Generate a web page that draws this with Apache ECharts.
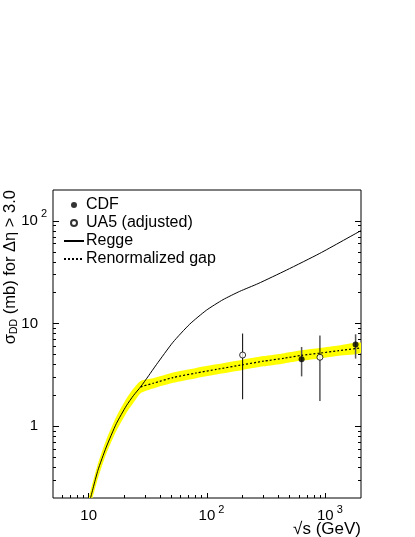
<!DOCTYPE html>
<html>
<head>
<meta charset="utf-8">
<script src="https://cdn.jsdelivr.net/npm/echarts@6/dist/echarts.min.js"></script>
<style>
html, body { margin: 0; padding: 0; background: #fff; }
#chart { width: 415px; height: 537px; }
</style>
</head>
<body>
<div id="chart"></div>
<script>
// sqrt(s) in GeV, sigma_DD in mb
const reggeX = [10.38, 11.97, 14.09, 17.13, 20.81, 23.99, 27.5, 32.1, 37.3, 51.6, 71.4, 98.9, 136.6, 189, 270, 470, 898, 2000];
const reggeY = [0.2, 0.371, 0.626, 1.059, 1.58, 2.0, 2.42, 3.10, 3.97, 6.58, 9.86, 13.5, 17.1, 20.6, 24.5, 33.2, 48.3, 80.5];

const gapX = [27.5, 35, 51.6, 81, 120, 200, 300, 450, 630, 900, 1300, 2000];
const gapY = [2.42, 2.62, 2.98, 3.30, 3.58, 3.97, 4.3, 4.6, 4.9, 5.15, 5.45, 5.8];

// yellow uncertainty band
const bandX = [10.0, 10.38, 11.97, 14.09, 17.13, 20.81, 23.99, 27.5, 35, 51.6, 81, 120, 200, 300, 450, 630, 900, 1300, 2000];
const bandLow = [0.145, 0.17, 0.31, 0.54, 0.9, 1.34, 1.7, 2.1, 2.33, 2.65, 2.94, 3.19, 3.53, 3.83, 4.09, 4.36, 4.58, 4.85, 5.16];
const bandHigh = [0.196, 0.235, 0.43, 0.74, 1.24, 1.85, 2.34, 2.76, 2.93, 3.34, 3.70, 4.01, 4.45, 4.82, 5.15, 5.49, 5.77, 6.10, 6.50];

// data points with error bars
const cdfX = [630, 1800];
const cdfY = [4.49, 6.25];
const cdfLow = [3.06, 4.56];
const cdfHigh = [5.92, 7.87];

const ua5X = [200, 900];
const ua5Y = [4.94, 4.70];
const ua5Low = [1.83, 1.76];
const ua5High = [8.0, 7.65];

// ticks
const xMajor = [10, 100, 1000];
const xMinor = [6, 7, 8, 9, 20, 30, 40, 50, 60, 70, 80, 90, 200, 300, 400, 500, 600, 700, 800, 900];
const yMajor = [1, 10, 100];
const yMinor = [0.3, 0.4, 0.5, 0.6, 0.7, 0.8, 0.9, 2, 3, 4, 5, 6, 7, 8, 9, 20, 30, 40, 50, 60, 70, 80, 90];

const lg = v => Math.log10(v);
const FONT = "'Liberation Sans', Arial, Helvetica, sans-serif";
const X_MIN = lg(5), X_MAX = lg(2000);
const Y_MIN = lg(0.2), Y_MAX = lg(200);

const labelRich = {
  b: { fontFamily: FONT, fontSize: 15, lineHeight: 24, color: '#000' },
  s: { fontFamily: FONT, fontSize: 11, lineHeight: 11, verticalAlign: 'top', padding: [0, 0, 0, 3], color: '#000' },
  p: { width: 9, fontSize: 11 }
};

function pow10Label(v, kind) {
  const e = Math.round(v);
  if (e === 0) return kind === 'x' ? '{b|1}' : '{b|1}{p|}';
  if (e === 1) return kind === 'x' ? '{b|10}' : '{b|10}{p|}';
  return kind === 'x' ? '{p|}{b|10}{s|' + e + '}' : '{b|10}{s|' + e + '}';
}

function axis(kind, pos, ticks, len, withLabels) {
  const a = {
    type: 'value',
    position: pos,
    min: kind === 'x' ? X_MIN : Y_MIN,
    max: kind === 'x' ? X_MAX : Y_MAX,
    axisLine: { show: false, onZero: false },
    axisTick: { show: true, inside: true, length: len, customValues: ticks.map(lg), lineStyle: { color: '#000', width: 1 } },
    axisLabel: { show: false },
    splitLine: { show: false }
  };
  if (withLabels) {
    a.axisLabel = {
      show: true,
      customValues: ticks.map(lg),
      margin: 6,
      formatter: v => pow10Label(v, kind),
      rich: labelRich
    };
  }
  return a;
}

const chart = echarts.init(document.getElementById('chart'), null, { renderer: 'canvas' });

chart.setOption({
  animation: false,
  backgroundColor: '#fff',
  textStyle: { fontFamily: FONT },
  grid: { left: 53, right: 54, top: 190, bottom: 39, show: true, borderColor: '#000', borderWidth: 1, backgroundColor: 'transparent' },
  xAxis: [
    axis('x', 'bottom', xMajor, 5, true),
    axis('x', 'bottom', xMinor, 3, false)
  ],
  yAxis: [
    axis('y', 'left', yMajor, 6, true),
    axis('y', 'left', yMinor, 3, false),
    axis('y', 'right', yMajor, 6, false),
    axis('y', 'right', yMinor, 3, false)
  ],
  legend: {
    orient: 'vertical',
    left: 63,
    top: 196,
    padding: 0,
    itemWidth: 20,
    itemHeight: 6,
    itemGap: 0,
    selectedMode: false,
    data: [
      { name: 'CDF' },
      { name: 'UA5 (adjusted)' },
      { name: 'Regge', itemStyle: { opacity: 0 } },
      { name: 'Renormalized gap', itemStyle: { opacity: 0 } }
    ],
    textStyle: { fontFamily: FONT, fontSize: 16, color: '#000', lineHeight: 18, padding: [0, 0, 0, -3] }
  },
  graphic: [
    {
      type: 'text',
      x: 10,
      y: 190,
      rotation: Math.PI / 2,
      style: {
        text: '{a|σ}{d|DD}{a| (mb) for Δη > 3.0}',
        align: 'right',
        verticalAlign: 'middle',
        rich: {
          a: { fontFamily: FONT, fontSize: 16.5, lineHeight: 20, fill: '#000' },
          d: { fontFamily: FONT, fontSize: 10.5, lineHeight: 10, verticalAlign: 'bottom', fill: '#000' }
        }
      }
    },
    {
      type: 'text',
      right: 54,
      top: 521,
      style: { text: '√s (GeV)', fontFamily: FONT, fontSize: 17, fill: '#000' }
    }
  ],
  series: [
    {
      name: 'band',
      type: 'custom',
      clip: true,
      silent: true,
      data: bandX.map((x, i) => [lg(x), lg(bandLow[i]), lg(bandHigh[i])]),
      encode: { x: 0, y: [1, 2] },
      renderItem: function (params, api) {
        if (params.dataIndex !== 0) return null;
        const pts = [];
        for (let i = 0; i < bandX.length; i++) pts.push(api.coord([lg(bandX[i]), lg(bandHigh[i])]));
        for (let i = bandX.length - 1; i >= 0; i--) pts.push(api.coord([lg(bandX[i]), lg(bandLow[i])]));
        return { type: 'polygon', shape: { points: pts, smooth: 0.2 }, style: { fill: '#ffff00' } };
      }
    },
    {
      name: 'Regge',
      type: 'line',
      symbol: 'none',
      smooth: 0.2,
      data: reggeX.map((x, i) => [lg(x), lg(reggeY[i])]),
      lineStyle: { color: '#000', width: 1 },
      itemStyle: { color: 'rgba(0,0,0,0)' }
    },
    {
      name: 'Renormalized gap',
      type: 'line',
      symbol: 'none',
      smooth: 0.2,
      data: gapX.map((x, i) => [lg(x), lg(gapY[i])]),
      lineStyle: { color: '#000', width: 1.2, type: [2, 2] },
      itemStyle: { color: 'rgba(0,0,0,0)' }
    },
    {
      name: 'CDF err',
      type: 'custom',
      data: cdfX.map((x, i) => [lg(x), lg(cdfLow[i]), lg(cdfHigh[i])]),
      encode: { x: 0, y: [1, 2] },
      renderItem: function (params, api) {
        const lo = api.coord([api.value(0), api.value(1)]);
        const hi = api.coord([api.value(0), api.value(2)]);
        return { type: 'line', shape: { x1: lo[0], y1: lo[1], x2: hi[0], y2: hi[1] }, style: { stroke: '#555', lineWidth: 1.5 } };
      }
    },
    {
      name: 'UA5 err',
      type: 'custom',
      data: ua5X.map((x, i) => [lg(x), lg(ua5Low[i]), lg(ua5High[i])]),
      encode: { x: 0, y: [1, 2] },
      renderItem: function (params, api) {
        const lo = api.coord([api.value(0), api.value(1)]);
        const hi = api.coord([api.value(0), api.value(2)]);
        return { type: 'line', shape: { x1: lo[0], y1: lo[1], x2: hi[0], y2: hi[1] }, style: { stroke: '#000', lineWidth: 1 } };
      }
    },
    {
      name: 'CDF',
      type: 'scatter',
      symbol: 'circle',
      symbolSize: 6,
      data: cdfX.map((x, i) => [lg(x), lg(cdfY[i])]),
      itemStyle: { color: '#000' },
      z: 5
    },
    {
      name: 'UA5 (adjusted)',
      type: 'scatter',
      symbol: 'circle',
      symbolSize: 6,
      data: ua5X.map((x, i) => [lg(x), lg(ua5Y[i])]),
      itemStyle: { color: '#fff', borderColor: '#000', borderWidth: 1 },
      z: 5
    }
  ]
});
</script>
</body>
</html>
